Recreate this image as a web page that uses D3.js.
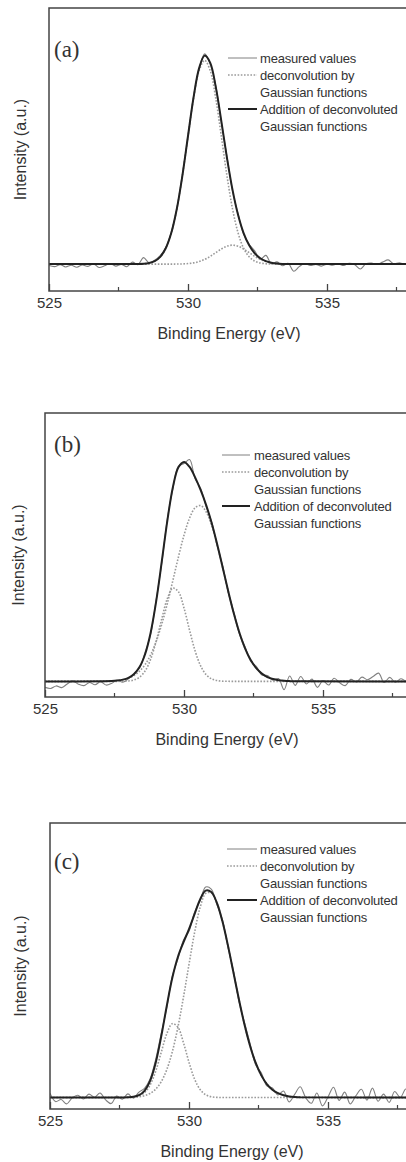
<!DOCTYPE html>
<html>
<head>
<meta charset="utf-8">
<script src="https://cdn.jsdelivr.net/npm/d3@7"></script>
<style>
  body { margin: 0; background: #fff; }
  text { font-family: "Liberation Sans", Arial, sans-serif; fill: #333; }
</style>
</head>
<body>
<svg id="chart" width="406" height="1162"></svg>
<script>
// O 1s spectra (a), (b), (c) with gaussian deconvolution

const measEnergy = [525.0, 525.2, 525.4, 525.6, 525.8, 526.0, 526.2, 526.4, 526.6, 526.8,
                    527.0, 527.2, 527.4, 527.6, 527.8, 528.0, 528.2, 528.4, 528.6, 528.8,
                    529.0, 529.2, 529.4, 529.6, 529.8, 530.0, 530.2, 530.4, 530.6, 530.8,
                    531.0, 531.2, 531.4, 531.6, 531.8, 532.0, 532.2, 532.4, 532.6, 532.8,
                    533.0, 533.2, 533.4, 533.6, 533.8, 534.0, 534.2, 534.4, 534.6, 534.8,
                    535.0, 535.2, 535.4, 535.6, 535.8, 536.0, 536.2, 536.4, 536.6, 536.8,
                    537.0, 537.2, 537.4, 537.6, 537.8, 538.0, 538.2, 538.4];

const fitEnergy = [525, 527.4, 527.6, 527.8, 528.0, 528.2, 528.4, 528.6, 528.8, 529.0,
                   529.2, 529.4, 529.6, 529.8, 530.0, 530.2, 530.4, 530.6, 530.8, 531.0,
                   531.2, 531.4, 531.6, 531.8, 532.0, 532.2, 532.4, 532.6, 532.8, 533.0,
                   533.2, 533.4, 533.6, 533.8, 534.0, 540];

const xTicks = [525, 530, 535];
const xMinor = [527.5, 532.5, 537.5];
const panelNames = ["(a)", "(b)", "(c)"];
const legendText = ["measured values", "deconvolution by", "Gaussian functions",
                    "Addition of deconvoluted", "Gaussian functions"];

// panel (a)
const measA = [9.0, 8.6, 9.3, 8.5, 9.1, 8.4, 9.2, 8.7, 9.6, 8.3,
               8.9, 9.7, 8.8, 9.4, 8.6, 10.2, 9.3, 11.8, 10.0, 10.9,
               12.5, 15.4, 20.8, 29.0, 41.2, 54.5, 68.8, 78.5, 83.8, 80.2,
               72.4, 59.6, 47.5, 35.4, 27.3, 20.1, 16.5, 14.2, 11.2, 12.6,
               9.6, 10.3, 8.9, 9.8, 7.0, 8.6, 9.7, 9.0, 9.4, 8.8,
               9.5, 9.1, 9.6, 9.0, 9.8, 9.3, 7.8, 9.6, 9.9, 9.4,
               10.2, 11.0, 9.6, 10.0, 9.5, 10.1, 9.7, 9.9];
const compA1 = [9.5, 9.5, 9.5, 9.5, 9.51, 9.54, 9.63, 9.9, 10.56, 12.08,
                15.12, 20.57, 29.11, 40.82, 54.58, 67.97, 77.85, 81.5, 77.85, 67.97,
                54.58, 40.82, 29.11, 20.57, 15.12, 12.08, 10.56, 9.9, 9.63, 9.54,
                9.5, 9.5, 9.5, 9.5, 9.5, 9.5];
const compA2 = [9.5, 9.5, 9.5, 9.5, 9.5, 9.5, 9.5, 9.5, 9.5, 9.5,
                9.5, 9.5, 9.53, 9.57, 9.69, 9.94, 10.41, 11.17, 12.25, 13.56,
                14.86, 15.84, 16.2, 15.84, 14.86, 13.56, 12.25, 11.17, 10.41, 9.94,
                9.69, 9.57, 9.53, 9.5, 9.5, 9.5];
const fitA = [9.5, 9.5, 9.5, 9.5, 9.51, 9.54, 9.63, 9.9, 10.56, 12.08,
              15.12, 20.57, 29.14, 40.89, 54.77, 68.41, 78.76, 83.17, 80.6, 72.03,
              59.94, 47.16, 35.81, 26.91, 20.48, 16.14, 13.31, 11.57, 10.54, 9.98,
              9.69, 9.57, 9.53, 9.5, 9.5, 9.5];

// panel (b)
const measB = [3.4, 3.0, 3.9, 3.3, 4.6, 5.7, 4.5, 4.0, 5.1, 4.3,
               5.4, 4.2, 4.8, 5.9, 5.2, 6.4, 8.3, 10.2, 15.6, 22.1,
               34.2, 47.1, 62.6, 73.4, 81.3, 82.2, 83.6, 76.8, 73.4, 67.0,
               61.5, 53.0, 45.8, 36.4, 29.6, 22.0, 17.6, 12.5, 10.8, 7.7,
               7.6, 5.9, 6.5, 2.6, 7.4, 4.1, 7.2, 4.6, 6.3, 3.4,
               5.8, 4.2, 6.6, 5.0, 4.0, 6.2, 5.3, 7.0, 6.1, 7.2,
               8.4, 5.1, 6.9, 5.2, 6.4, 5.6, 6.3, 5.9];
const compB1 = [5.5, 5.5, 5.51, 5.54, 5.64, 5.99, 6.95, 9.14, 13.28, 19.68,
                27.51, 34.62, 38.34, 37.05, 31.33, 23.52, 16.21, 10.93, 7.84, 6.36,
                5.77, 5.57, 5.52, 5.5, 5.5, 5.5, 5.5, 5.5, 5.5, 5.5,
                5.5, 5.5, 5.5, 5.5, 5.5, 5.5];
const compB2 = [5.5, 5.64, 5.79, 6.08, 6.62, 7.55, 9.08, 11.43, 14.86, 19.57,
                25.63, 32.90, 41.02, 49.31, 56.94, 62.99, 66.64, 67.40, 65.15, 60.22,
                53.26, 45.19, 36.89, 29.13, 22.43, 17.05, 13.00, 10.13, 8.22, 7.02,
                6.31, 5.91, 5.70, 5.59, 5.54, 5.5];
const fitB = [5.5, 5.64, 5.80, 6.12, 6.76, 8.04, 10.53, 15.07, 22.64, 33.75,
              47.64, 62.02, 73.86, 80.86, 82.77, 81.01, 77.35, 72.83, 67.49, 61.08,
              53.53, 45.26, 36.91, 29.13, 22.43, 17.05, 13.00, 10.13, 8.22, 7.02,
              6.31, 5.91, 5.70, 5.59, 5.54, 5.5];

// panel (c)
const measC = [5.5, 2.6, 3.3, 1.8, 3.9, 4.8, 3.5, 5.2, 4.1, 5.6,
               3.2, 1.9, 4.5, 3.4, 5.3, 3.8, 5.9, 7.2, 10.5, 17.3,
               26.4, 35.4, 46.5, 52.4, 59.0, 62.1, 68.8, 72.9, 77.6, 76.9,
               71.6, 66.3, 56.6, 48.2, 37.5, 30.1, 22.8, 15.4, 12.7, 8.1,
               7.4, 4.9, 6.3, 2.5, 5.1, 7.8, 3.9, 2.0, 5.6, 1.1,
               4.2, 7.6, 3.0, 5.9, 1.8, 4.6, 6.9, 3.1, 7.3, 2.7,
               5.2, 2.3, 6.1, 4.0, 7.0, 3.6, 6.4, 4.8];
const compC1 = [4.0, 4.0, 4.01, 4.03, 4.14, 4.55, 5.71, 8.37, 13.16, 19.77,
                26.28, 29.84, 28.60, 23.21, 16.32, 10.48, 6.80, 4.99, 4.29, 4.07,
                4.01, 4.0, 4.0, 4.0, 4.0, 4.0, 4.0, 4.0, 4.0, 4.0,
                4.0, 4.0, 4.0, 4.0, 4.0, 4.0];
const compC2 = [4.0, 4.0, 4.01, 4.04, 4.11, 4.28, 4.65, 5.43, 6.91, 9.52,
                13.74, 20.03, 28.56, 39.05, 50.58, 61.65, 70.46, 75.36, 75.56, 72.11,
                65.70, 57.21, 47.67, 38.11, 29.37, 21.96, 16.10, 11.76, 8.73, 6.75,
                5.52, 4.80, 4.40, 4.19, 4.09, 4.0];
const fitC = [4.0, 4.0, 4.02, 4.07, 4.25, 4.83, 6.36, 9.80, 16.07, 25.29,
              36.02, 45.87, 53.16, 58.26, 62.90, 68.13, 73.26, 76.35, 75.85, 72.18,
              65.71, 57.21, 47.67, 38.11, 29.37, 21.96, 16.10, 11.76, 8.73, 6.75,
              5.52, 4.80, 4.40, 4.19, 4.09, 4.0];

const series = [[measA, compA1, compA2, fitA],
                [measB, compB1, compB2, fitB],
                [measC, compC1, compC2, fitC]];

// layout of each panel (pixels)
const lay = [
  {x0: 49, top: 8,   bot: 291,  name: 49, legY: 50, legX: [228, 257, 260], yLab: 20, xLab: 229},
  {x0: 45, top: 413, bot: 697,  name: 39, legY: 42, legX: [222, 250, 254], yLab: 18, xLab: 227},
  {x0: 50, top: 823, bot: 1109, name: 46, legY: 26, legX: [227, 257, 260], yLab: 20, xLab: 232}
];
const pxPerEv = 27.8;
const rowGap = 17;

const svg = d3.select("#chart");

function drawLine(g, xs, ys, x, y, color, width, dash) {
  const line = d3.line().x(d => x(d[0])).y(d => y(d[1])).curve(d3.curveCatmullRom);
  g.append("path").datum(xs.map((v, i) => [v, ys[i]]))
    .attr("d", line).attr("fill", "none").attr("stroke", color)
    .attr("stroke-width", width).attr("stroke-dasharray", dash);
}

function drawLegend(g, L) {
  const [lx1, lx2, tx] = L.legX;
  legendText.forEach((t, i) => {
    g.append("text").attr("x", tx).attr("y", L.top + L.legY + i * rowGap)
      .attr("dy", "0.35em").attr("font-size", "13px").attr("letter-spacing", "-0.2px").text(t);
  });
  const ly = i => L.top + L.legY + i * rowGap;
  g.append("line").attr("x1", lx1).attr("x2", lx2).attr("y1", ly(0)).attr("y2", ly(0))
    .attr("stroke", "#808080").attr("stroke-width", 1);
  g.append("line").attr("x1", lx1).attr("x2", lx2).attr("y1", ly(1)).attr("y2", ly(1))
    .attr("stroke", "#9a9a9a").attr("stroke-width", 1.6).attr("stroke-dasharray", "1.6,1.6");
  g.append("line").attr("x1", lx1).attr("x2", lx2).attr("y1", ly(3)).attr("y2", ly(3))
    .attr("stroke", "#222").attr("stroke-width", 2);
}

function drawPanel(k) {
  const L = lay[k];
  const [meas, c1, c2, fit] = series[k];
  const g = svg.append("g");
  const x = d3.scaleLinear().domain([525, 540]).range([L.x0, L.x0 + 15 * pxPerEv]);
  const y = d3.scaleLinear().domain([0, 100]).range([L.bot, L.top]);

  const clipId = "clip" + k;
  g.append("clipPath").attr("id", clipId).append("rect")
    .attr("x", L.x0).attr("y", L.top).attr("width", 15 * pxPerEv).attr("height", L.bot - L.top);
  const plot = g.append("g").attr("clip-path", "url(#" + clipId + ")");

  drawLine(plot, measEnergy, meas, x, y, "#808080", 1.1, null);
  drawLine(plot, fitEnergy, c1, x, y, "#9a9a9a", 1.6, "1.6,1.6");
  drawLine(plot, fitEnergy, c2, x, y, "#9a9a9a", 1.6, "1.6,1.6");
  drawLine(plot, fitEnergy, fit, x, y, "#222", 2, null);

  // frame
  g.append("rect").attr("x", L.x0).attr("y", L.top)
    .attr("width", 15 * pxPerEv).attr("height", L.bot - L.top)
    .attr("fill", "none").attr("stroke", "#444").attr("stroke-width", 1.5);

  // bottom axis, ticks pointing inward
  const ax = d3.axisBottom(x).tickValues(xTicks).tickSize(-7).tickPadding(6).tickFormat(d3.format("d"));
  const axG = g.append("g").attr("transform", "translate(0," + L.bot + ")").call(ax);
  axG.select(".domain").remove();
  axG.selectAll(".tick line").attr("stroke", "#444").attr("stroke-width", 1.3);
  axG.selectAll(".tick text").attr("font-size", "15px").attr("fill", "#333")
    .attr("font-family", "Liberation Sans, Arial, sans-serif");
  g.selectAll(null).data(xMinor).enter().append("line")
    .attr("x1", d => x(d)).attr("x2", d => x(d)).attr("y1", L.bot).attr("y2", L.bot - 4)
    .attr("stroke", "#444").attr("stroke-width", 1.2);

  g.append("text").attr("x", L.xLab).attr("y", L.bot + 42).attr("dy", "0.35em")
    .attr("text-anchor", "middle").attr("font-size", "16px").text("Binding Energy (eV)");
  g.append("text").attr("transform", "translate(" + L.yLab + "," + (L.top + L.bot) / 2 + ") rotate(-90)")
    .attr("dy", "0.35em").attr("text-anchor", "middle").attr("font-size", "16px").text("Intensity (a.u.)");
  g.append("text").attr("x", 54).attr("y", L.top + L.name)
    .attr("font-size", "23px").style("font-family", "'Liberation Serif', 'Times New Roman', serif")
    .attr("fill", "#222").text(panelNames[k]);

  drawLegend(g, L);
}

for (let k = 0; k < 3; k++) drawPanel(k);
</script>
</body>
</html>
